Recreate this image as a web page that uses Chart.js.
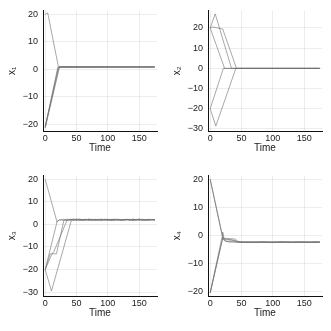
<!DOCTYPE html>
<html>
<head>
<meta charset="utf-8">
<script src="https://cdn.jsdelivr.net/npm/chart.js@4.4.0/dist/chart.umd.min.js"></script>
<style>
html, body { margin: 0; padding: 0; background: #fff; }
.painel { position: absolute; width: 165px; height: 165px; }
</style>
</head>
<body>
<div class="painel" style="left:0;top:0"><canvas id="g1" width="165" height="165"></canvas></div>
<div class="painel" style="left:165px;top:0"><canvas id="g2" width="165" height="165"></canvas></div>
<div class="painel" style="left:0;top:165px"><canvas id="g3" width="165" height="165"></canvas></div>
<div class="painel" style="left:165px;top:165px"><canvas id="g4" width="165" height="165"></canvas></div>
<script>
// eixos
const xTicks = [0, 50, 100, 150]
const yTicks1 = [-20, -10, 0, 10, 20]
const yTicks2 = [-30, -20, -10, 0, 10, 20]
const yTicks3 = [-30, -20, -10, 0, 10, 20]
const yTicks4 = [-20, -10, 0, 10, 20]

// x1: trajetorias (tempo, valor)
const x1Tempos = [
    [0, 4, 21, 175],
    [0, 20, 175],
    [0, 21, 175],
    [0, 22, 175],
    [0, 23, 175]
]
const x1Valores = [
    [20, 20.5, 1, 0.8],
    [-21.2, 0.6, 0.8],
    [-21, 0.7, 0.8],
    [-20.8, 0.8, 0.8],
    [-21.4, 0.9, 0.8]
]

// x2
const x2Tempos = [
    [0, 8, 34, 175],
    [0, 4, 20, 42, 175],
    [0, 23, 175],
    [0, 21, 175],
    [0, 9, 41, 175]
]
const x2Valores = [
    [20, 27, 0, 0],
    [20, 20.5, 19.5, 0, 0],
    [20, 0, 0],
    [-20, 0, 0],
    [-20, -28.5, 0, 0]
]

// x3 (parte inicial + ruido no regime)
const x3Tempos = [
    [0, 19, 22],
    [0, 19, 23],
    [0, 8, 18, 30],
    [0, 10, 14, 35],
    [0, 10, 42]
]
const x3Valores = [
    [20, 1, 2],
    [-20, 1.3, 2],
    [-20, -13, -13, 2],
    [-20, -13.5, -12, 2],
    [-20, -29.5, 2]
]
const x3TempoRegime = [25, 30, 35, 40, 45, 50, 55, 60, 65, 70, 75, 80, 85, 90, 95, 100, 105, 110, 115, 120, 125, 130, 135, 140, 145, 150, 155, 160, 165, 170, 175]
const x3Regime = [
    [2.1, 1.8, 2.4, 1.9, 2.2, 1.7, 2.3, 2.0, 1.8, 2.5, 1.9, 2.1, 2.2, 1.6, 2.3, 2.0, 1.9, 2.4, 1.8, 2.1, 2.2, 1.9, 2.3, 1.7, 2.0, 2.4, 1.9, 2.1, 1.8, 2.2, 2.0],
    [1.9, 2.3, 1.7, 2.2, 2.0, 2.4, 1.8, 2.1, 2.3, 1.7, 2.2, 1.9, 2.0, 2.4, 1.8, 2.2, 2.1, 1.7, 2.3, 1.9, 2.0, 2.2, 1.8, 2.4, 2.1, 1.9, 2.2, 1.8, 2.3, 2.0, 2.1],
    [2.2, 2.0, 1.8, 2.3, 1.9, 2.1, 2.4, 1.8, 2.0, 2.2, 1.7, 2.3, 1.9, 2.1, 2.0, 1.8, 2.3, 2.1, 1.9, 2.2, 1.8, 2.1, 2.0, 2.3, 1.9, 2.2, 1.7, 2.1, 2.0, 2.2, 1.9],
    [1.8, 2.2, 2.1, 1.9, 2.4, 2.0, 1.8, 2.2, 2.1, 1.9, 2.3, 2.0, 1.8, 2.2, 2.1, 2.3, 1.9, 2.0, 2.2, 1.8, 2.1, 2.3, 1.9, 2.0, 2.2, 1.8, 2.3, 2.0, 1.9, 2.1, 2.0],
    [2.0, 2.1, 1.9, 2.2, 1.8, 2.3, 2.0, 1.9, 2.2, 2.0, 2.1, 1.8, 2.3, 1.9, 2.2, 2.0, 1.8, 2.1, 2.3, 2.0, 1.9, 2.2, 2.1, 1.8, 2.0, 2.3, 2.1, 1.9, 2.2, 2.0, 2.1]
]

// x4
const x4Tempos = [
    [0, 19, 21, 25],
    [0, 19, 20, 22, 40, 45],
    [0, 19, 22, 40, 46],
    [0, 20, 25, 30],
    [0, 20, 23, 35, 42]
]
const x4Valores = [
    [20, 0.5, -1.5, -2.2],
    [-20.5, -0.5, 1.2, -1, -1.3, -2.3],
    [20, 0, -1.5, -1.8, -2.3],
    [-20.5, -1, -2, -2.3],
    [-20.5, -0.8, -1.2, -1.6, -2.3]
]
const x4TempoRegime = [48, 55, 62, 70, 78, 85, 92, 100, 108, 115, 122, 130, 138, 145, 152, 160, 168, 175]
const x4Regime = [
    [-2.4, -2.3, -2.5, -2.4, -2.3, -2.4, -2.5, -2.3, -2.4, -2.4, -2.3, -2.5, -2.4, -2.3, -2.4, -2.5, -2.3, -2.4],
    [-2.3, -2.4, -2.4, -2.5, -2.4, -2.3, -2.4, -2.4, -2.5, -2.3, -2.4, -2.4, -2.3, -2.5, -2.4, -2.3, -2.4, -2.4],
    [-2.5, -2.4, -2.3, -2.4, -2.5, -2.4, -2.3, -2.5, -2.4, -2.3, -2.5, -2.4, -2.4, -2.4, -2.3, -2.4, -2.5, -2.3],
    [-2.4, -2.5, -2.4, -2.3, -2.4, -2.4, -2.5, -2.4, -2.3, -2.4, -2.4, -2.3, -2.5, -2.4, -2.4, -2.5, -2.4, -2.4],
    [-2.3, -2.4, -2.5, -2.4, -2.4, -2.3, -2.4, -2.5, -2.4, -2.4, -2.4, -2.5, -2.3, -2.4, -2.5, -2.4, -2.3, -2.4]
]

function montarSeries(tempos, valores, tempoRegime, regime) {
    return tempos.map(function (t, i) {
        const pontos = t.map((tt, k) => ({ x: tt, y: valores[i][k] }))
        if (regime) {
            const fim = t[t.length - 1]
            tempoRegime.forEach(function (tt, k) {
                if (tt > fim) pontos.push({ x: tt, y: regime[i][k] })
            })
        }
        return {
            data: pontos,
            borderColor: 'rgba(110,110,110,0.6)',
            borderWidth: 1,
            pointRadius: 0,
            tension: 0,
            fill: false
        }
    })
}

const fonte = 'Liberation Sans, Arial, sans-serif'
const menos = v => String(v).replace('-', '\u2212')

function criarGrafico(id, series, rotulo, yMin, yMax, yTicks) {
    const ctx = document.getElementById(id).getContext('2d')
    return new Chart(ctx, {
        type: 'line',
        data: { datasets: series },
        options: {
            responsive: false,
            animation: false,
            layout: { padding: { left: 0, right: 8, top: 8, bottom: 0 } },
            plugins: { legend: { display: false }, tooltip: { enabled: false } },
            scales: {
                x: {
                    type: 'linear',
                    min: -3.5,
                    max: 178.5,
                    afterBuildTicks: s => { s.ticks = xTicks.map(v => ({ value: v })) },
                    afterFit: s => { s.height = 34 },
                    grid: { color: 'rgba(0,0,0,0.07)', drawTicks: false },
                    border: { display: true, color: '#111', width: 1 },
                    ticks: { color: '#1a1a1a', padding: 2, maxRotation: 0, font: { size: 9, family: fonte }, callback: v => menos(v) },
                    title: { display: true, text: 'Time', color: '#1a1a1a', padding: { top: 0, bottom: 11 }, font: { size: 10, family: fonte } }
                },
                y: {
                    min: yMin,
                    max: yMax,
                    afterBuildTicks: s => { s.ticks = yTicks.map(v => ({ value: v })) },
                    afterFit: s => { s.width = 43 },
                    grid: { color: 'rgba(0,0,0,0.07)', drawTicks: false },
                    border: { display: true, color: '#111', width: 1 },
                    ticks: { color: '#1a1a1a', padding: 5, font: { size: 9, family: fonte }, callback: v => menos(v) },
                    title: { display: true, text: rotulo, color: '#1a1a1a', padding: { top: 6, bottom: 0 }, font: { size: 10, family: fonte } }
                }
            }
        }
    })
}

criarGrafico('g1', montarSeries(x1Tempos, x1Valores), 'x\u2081', -22.5, 21.4, yTicks1)
criarGrafico('g2', montarSeries(x2Tempos, x2Valores), 'x\u2082', -31, 28.7, yTicks2)
criarGrafico('g3', montarSeries(x3Tempos, x3Valores, x3TempoRegime, x3Regime), 'x\u2083', -31.7, 21.7, yTicks3)
criarGrafico('g4', montarSeries(x4Tempos, x4Valores, x4TempoRegime, x4Regime), 'x\u2084', -21.6, 21.4, yTicks4)
</script>
</body>
</html>
